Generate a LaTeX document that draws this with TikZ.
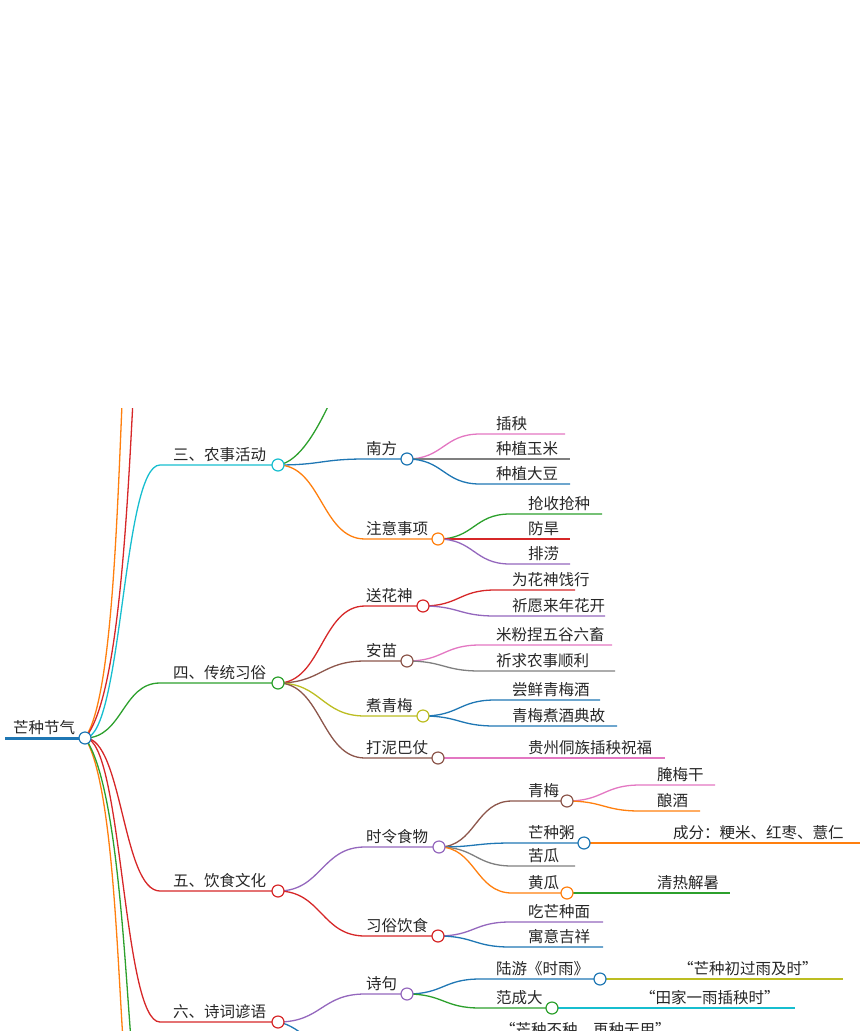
\documentclass[tikz,border=0pt]{standalone}
\usepackage{fontspec}
\setmainfont{Noto Sans CJK SC}
\definecolor{mblue}{HTML}{1F77B4}
\definecolor{morange}{HTML}{FF7F0E}
\definecolor{mgreen}{HTML}{2CA02C}
\definecolor{mred}{HTML}{D62728}
\definecolor{mpurple}{HTML}{9467BD}
\definecolor{mbrown}{HTML}{8C564B}
\definecolor{mpink}{HTML}{E377C2}
\definecolor{mgray}{HTML}{7F7F7F}
\definecolor{molive}{HTML}{BCBD22}
\definecolor{mcyan}{HTML}{17BECF}
\tikzset{
 dot/.style={circle,draw=#1,fill=white,line width=1.2pt,minimum size=12pt,inner sep=0pt},
 lbl/.style={anchor=south west,inner sep=0pt,font=\fontsize{15.5}{15.5}\selectfont,text=black!85},
 ln/.style={line width=1.3pt}
}
% \br{color}{x1}{y1}{xs}{y2}{xend}
\newcommand\br[6]{\draw[ln,#1] (#2,#3) .. controls ({(#2+#4)/2},#3) and ({(#2+#4)/2},#5) .. (#4,#5) -- (#6,#5);}
\newcommand\tx[3]{\node[lbl] at (#1,{#2-3}) {#3};}
\begin{document}
\begin{tikzpicture}[x=1pt,y=-1pt]
\useasboundingbox (0,0) rectangle (864,1031);
\clip (0,408) rectangle (864,1031);
% offscreen branches
\draw[ln,morange] (85,738) .. controls (112,700) and (117,520) .. (123,380);
\draw[ln,mred] (85,738) .. controls (118,700) and (127,520) .. (134,380);
\draw[ln,morange] (85,738) .. controls (112,780) and (117,950) .. (123,1040);
\draw[ln,mgreen] (85,738) .. controls (116,780) and (124,950) .. (131,1040);
\draw[ln,mgreen] (278,465) .. controls (300,462) and (318,428) .. (332,398);
\draw[ln,mblue] (278,1022) .. controls (290,1024) and (300,1032) .. (310,1040);
% level 1
\draw[line width=3pt,mblue] (5,738) -- (85,738);
\br{mcyan}{85}{738}{160}{465}{278}
\br{mgreen}{85}{738}{160}{683}{278}
\br{mred}{85}{738}{160}{891}{278}
\br{mred}{85}{738}{160}{1022}{278}
% 三
\br{mblue}{278}{465}{365}{459}{407}
\br{morange}{278}{465}{365}{539}{438}
\br{mpink}{407}{459}{480}{434}{565}
\br{mgray}{407}{459}{480}{459}{570}
\br{mblue}{407}{459}{480}{484}{570}
\br{mgreen}{438}{539}{510}{514}{602}
\br{mred}{438}{539}{510}{539}{570}
\br{mpurple}{438}{539}{510}{564}{570}
% 四
\br{mred}{278}{683}{365}{606}{423}
\br{mbrown}{278}{683}{365}{661}{407}
\br{molive}{278}{683}{365}{716}{423}
\br{mbrown}{278}{683}{365}{758}{438}
\br{mred}{423}{606}{495}{590}{575}
\br{mpurple}{423}{606}{495}{616}{605}
\br{mpink}{407}{661}{480}{645}{612}
\br{mgray}{407}{661}{480}{671}{615}
\br{mblue}{423}{716}{495}{700}{600}
\br{mblue}{423}{716}{495}{726}{617}
\br{mpink}{438}{758}{510}{758}{665}
% 五
\br{mpurple}{278}{891}{365}{847}{439}
\br{mred}{278}{891}{365}{936}{438}
\br{mbrown}{439}{847}{512}{801}{567}
\br{mblue}{439}{847}{512}{843}{584}
\br{mgray}{439}{847}{512}{866}{575}
\br{morange}{439}{847}{512}{893}{567}
\br{mpink}{567}{801}{640}{785}{715}
\br{morange}{567}{801}{640}{811}{700}
\br{morange}{584}{843}{655}{843}{860}
\br{mgreen}{567}{893}{640}{893}{730}
\br{mpurple}{438}{936}{510}{922}{603}
\br{mblue}{438}{936}{510}{947}{603}
% 六
\br{mpurple}{278}{1022}{365}{994}{407}
\br{mblue}{407}{994}{480}{979}{600}
\br{mgreen}{407}{994}{480}{1008}{552}
\br{molive}{600}{979}{660}{979}{843}
\br{mcyan}{552}{1008}{620}{1008}{795}
% circles
\node[dot=mblue] (root) at (85,738) {};
\node[dot=mcyan] (n3) at (278,465) {};
\node[dot=mgreen] (n4) at (278,683) {};
\node[dot=mred] (n5) at (278,891) {};
\node[dot=mred] (n6) at (278,1022) {};
\node[dot=mblue] (nf) at (407,459) {};
\node[dot=morange] (zy) at (438,539) {};
\node[dot=mred] (shs) at (423,606) {};
\node[dot=mbrown] (am) at (407,661) {};
\node[dot=molive] (zqm) at (423,716) {};
\node[dot=mbrown] (dnb) at (438,758) {};
\node[dot=mpurple] (slsw) at (439,847) {};
\node[dot=mbrown] (qm) at (567,801) {};
\node[dot=mblue] (mzz) at (584,843) {};
\node[dot=morange] (hg) at (567,893) {};
\node[dot=mred] (xsys) at (438,936) {};
\node[dot=mpurple] (sj) at (407,994) {};
\node[dot=mblue] (ly) at (600,979) {};
\node[dot=mgreen] (fcd) at (552,1008) {};
% texts
\tx{13}{738}{芒种节气}
\tx{173}{465}{三、农事活动}
\tx{173}{683}{四、传统习俗}
\tx{173}{891}{五、饮食文化}
\tx{173}{1022}{六、诗词谚语}
\tx{366}{459}{南方}
\tx{366}{539}{注意事项}
\tx{496}{434}{插秧}
\tx{496}{459}{种植玉米}
\tx{496}{484}{种植大豆}
\tx{528}{514}{抢收抢种}
\tx{528}{539}{防旱}
\tx{528}{564}{排涝}
\tx{366}{606}{送花神}
\tx{366}{661}{安苗}
\tx{366}{716}{煮青梅}
\tx{366}{758}{打泥巴仗}
\tx{512}{590}{为花神饯行}
\tx{512}{616}{祈愿来年花开}
\tx{496}{645}{米粉捏五谷六畜}
\tx{496}{671}{祈求农事顺利}
\tx{512}{700}{尝鲜青梅酒}
\tx{512}{726}{青梅煮酒典故}
\tx{528}{758}{贵州侗族插秧祝福}
\tx{366}{847}{时令食物}
\tx{366}{936}{习俗饮食}
\tx{528}{801}{青梅}
\tx{528}{843}{芒种粥}
\tx{528}{866}{苦瓜}
\tx{528}{893}{黄瓜}
\tx{657}{785}{腌梅干}
\tx{657}{811}{酿酒}
\tx{673}{843}{成分：粳米、红枣、薏仁}
\tx{657}{893}{清热解暑}
\tx{528}{922}{吃芒种面}
\tx{528}{947}{寓意吉祥}
\tx{366}{994}{诗句}
\tx{496}{979}{陆游《时雨》}
\tx{496}{1008}{范成大}
\tx{678}{979}{“芒种初过雨及时”}
\tx{640}{1008}{“田家一雨插秧时”}
\tx{500}{1040}{“芒种不种，再种无用”}
\end{tikzpicture}
\end{document}
